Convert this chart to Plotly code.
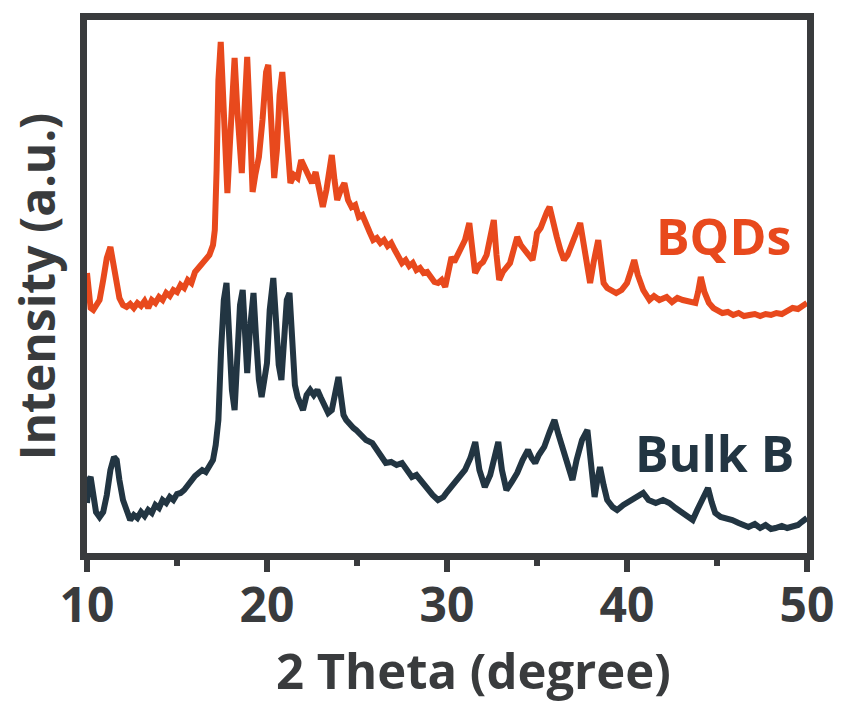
import plotly.graph_objects as go

# ---- data ----
bqd_theta = [10.0, 10.1, 10.2, 10.35, 10.5, 10.7, 10.9, 11.1, 11.3, 11.45, 11.6, 11.8, 12.0, 12.2, 12.4, 12.6, 12.8, 13.0,
             13.2, 13.4, 13.6, 13.8, 14.0, 14.2, 14.4, 14.6, 14.8, 15.0, 15.2, 15.4, 15.6, 15.8, 16.0, 16.2, 16.4, 16.6,
             16.8, 17.0, 17.1, 17.2, 17.3, 17.43, 17.55, 17.7, 17.8, 17.95, 18.1, 18.2, 18.35, 18.5, 18.6, 18.75, 18.9,
             19.05, 19.2, 19.35, 19.55, 19.75, 19.95, 20.07, 20.2, 20.4, 20.55, 20.7, 20.85, 21.0, 21.15, 21.3, 21.5,
             21.7, 21.9, 22.1, 22.3, 22.5, 22.7, 22.9, 23.1, 23.3, 23.45, 23.6, 23.75, 23.9, 24.1, 24.3, 24.5, 24.7,
             24.9, 25.1, 25.3, 25.5, 25.7, 25.9, 26.1, 26.3, 26.5, 26.7, 26.9, 27.1, 27.3, 27.5, 27.7, 27.9, 28.1, 28.3,
             28.5, 28.7, 28.9, 29.1, 29.3, 29.5, 29.7, 29.9, 30.1, 30.25, 30.4, 30.6, 30.8, 31.0, 31.24, 31.4, 31.56,
             31.8, 32.0, 32.2, 32.4, 32.6, 32.75, 32.9, 33.1, 33.3, 33.5, 33.7, 33.9, 34.1, 34.3, 34.5, 34.75, 34.9,
             35.0, 35.2, 35.4, 35.55, 35.7, 35.85, 36.0, 36.1, 36.3, 36.5, 36.7, 36.85, 37.0, 37.2, 37.4, 37.6, 37.8,
             37.95, 38.15, 38.4, 38.55, 38.7, 38.9, 39.1, 39.4, 39.7, 40.0, 40.2, 40.4, 40.6, 40.9, 41.25, 41.5, 41.8,
             42.2, 42.5, 42.8, 43.1, 43.5, 43.8, 43.95, 44.1, 44.3, 44.55, 44.8, 45.1, 45.3, 45.6, 45.9, 46.2, 46.5,
             46.8, 47.1, 47.4, 47.7, 48.0, 48.3, 48.6, 48.9, 49.2, 49.5, 49.8, 50.0]
bqd_level = [273, 295, 308, 310, 305, 300, 280, 258, 247, 262, 285, 298, 305, 307, 304, 308, 303, 306,
             301, 308, 300, 303, 297, 300, 293, 296, 290, 292, 285, 288, 280, 283, 272, 268, 264, 258,
             255, 245, 230, 170, 80, 42, 90, 170, 193, 140, 80, 58, 110, 160, 173, 110, 57,
             120, 192, 175, 157, 120, 72, 65, 110, 178, 150, 95, 72, 110, 160, 183, 175,
             178, 160, 168, 175, 183, 172, 190, 207, 190, 175, 155, 180, 200, 190, 183, 200, 207,
             205, 217, 215, 225, 232, 240, 238, 243, 240, 246, 243, 250, 258, 263, 260, 266, 263, 270,
             268, 273, 272, 278, 282, 283, 280, 287, 270, 257, 262, 255, 250, 240, 223, 252, 273,
             265, 262, 255, 238, 220, 255, 280, 272, 268, 263, 250, 237, 245, 250, 255, 260, 245,
             233, 228, 217, 212, 207, 220, 230, 237, 250, 260, 255, 247, 240, 232, 223, 248, 270,
             283, 262, 240, 262, 283, 288, 290, 293, 290, 283, 272, 260, 275, 290, 300, 296, 300,
             297, 302, 298, 300, 302, 303, 292, 277, 292, 303, 308, 311, 313, 312, 315, 313, 316,
             315, 314, 316, 314, 315, 313, 314, 311, 308, 309, 305, 303]

bulk_theta = [10.0, 10.1, 10.2, 10.35, 10.5, 10.7, 10.9, 11.1, 11.3, 11.5, 11.65, 11.8, 12.0, 12.2, 12.4, 12.6, 12.8,
              13.0, 13.2, 13.4, 13.6, 13.8, 14.0, 14.2, 14.4, 14.6, 14.8, 15.0, 15.2, 15.4, 15.6, 15.8, 16.0, 16.2,
              16.4, 16.6, 16.8, 17.0, 17.15, 17.3, 17.45, 17.6, 17.75, 17.9, 18.05, 18.2, 18.35, 18.5, 18.65, 18.8,
              18.9, 19.05, 19.25, 19.4, 19.55, 19.7, 19.85, 20.0, 20.15, 20.35, 20.5, 20.65, 20.8, 20.95, 21.1, 21.25,
              21.4, 21.55, 21.7, 21.85, 22.0, 22.2, 22.4, 22.6, 22.8, 23.0, 23.2, 23.4, 23.6, 23.8, 23.97, 24.1, 24.25,
              24.4, 24.6, 24.8, 24.95, 25.2, 25.5, 25.85, 26.1, 26.4, 26.6, 26.9, 27.2, 27.5, 27.8, 28.05, 28.3, 28.6,
              28.8, 29.0, 29.2, 29.5, 29.8, 30.0, 30.25, 30.5, 30.8, 31.0, 31.3, 31.57, 31.8, 32.1, 32.4, 32.6, 32.85,
              33.05, 33.3, 33.6, 33.9, 34.2, 34.5, 34.7, 34.9, 35.1, 35.4, 35.7, 35.97, 36.2, 36.5, 36.75, 36.97, 37.2,
              37.5, 37.8, 38.0, 38.2, 38.35, 38.5, 38.7, 38.9, 39.2, 39.45, 39.8, 40.1, 40.5, 40.9, 41.2, 41.6, 42.0,
              42.35, 42.7, 43.0, 43.35, 43.65, 43.9, 44.2, 44.5, 44.7, 44.9, 45.2, 45.5, 45.85, 46.2, 46.5, 46.75, 47.1,
              47.4, 47.7, 48.0, 48.25, 48.6, 48.9, 49.2, 49.5, 49.7, 49.9, 50.0]
bulk_level = [503, 480, 477, 495, 512, 517, 512, 495, 470, 457, 460, 480, 500, 510, 520, 515, 518,
              512, 516, 510, 513, 505, 508, 500, 503, 497, 500, 494, 493, 490, 485, 480, 476, 473,
              470, 472, 467, 460, 445, 420, 350, 300, 283, 330, 390, 410, 360, 305, 290, 340,
              373, 330, 293, 340, 380, 397, 375, 363, 310, 278, 320, 365, 380, 340, 300, 293,
              340, 385, 397, 405, 410, 395, 390, 395, 390, 398, 405, 413, 410, 395, 377, 395, 415,
              420, 425, 428, 430, 435, 440, 443, 450, 458, 463, 462, 465, 463, 470, 477, 475, 482,
              485, 490, 495, 500, 497, 492, 487, 482, 475, 470, 458, 442, 470, 487, 475, 460, 442,
              470, 490, 482, 473, 460, 450, 458, 463, 455, 447, 432, 420, 435, 453, 465, 480, 460,
              440, 430, 460, 497, 480, 467, 485, 500, 507, 510, 505, 502, 497, 493, 500, 503, 500,
              503, 508, 512, 515, 520, 510, 498, 488, 502, 513, 517, 518, 520, 523, 525, 527, 524,
              528, 525, 529, 528, 526, 528, 527, 525, 522, 520, 518]

# convert screen-read levels (measured from the top) into intensity counts
BASE = 553
TOP = 20
bqd_intensity = [BASE - v for v in bqd_level]
bulk_intensity = [BASE - v for v in bulk_level]

x_ticks = [10, 20, 30, 40, 50]
x_ticklabels = ["10", "20", "30", "40", "50"]

ORANGE = "#E8491D"
DARK = "#223542"
AXIS = "#393b3d"
FONT = "Open Sans"

fig = go.Figure()
fig.add_trace(go.Scatter(x=bqd_theta, y=bqd_intensity, mode="lines",
                         line=dict(color=ORANGE, width=6), name="BQDs"))
fig.add_trace(go.Scatter(x=bulk_theta, y=bulk_intensity, mode="lines",
                         line=dict(color=DARK, width=6), name="Bulk B"))

fig.add_annotation(x=45.35, y=BASE - 236, text="BQDs", showarrow=False, xref="x", yref="y",
                   font=dict(family=FONT, size=50, color=ORANGE, weight=700))
fig.add_annotation(x=44.85, y=BASE - 453, text="Bulk B", showarrow=False, xref="x", yref="y",
                   font=dict(family=FONT, size=50, color=DARK, weight=700))

# x-axis title (sits slightly right of the plot centre in the reference)
fig.add_annotation(x=0.537, y=0, xref="paper", yref="paper", xanchor="center", yanchor="middle",
                   yshift=-117, showarrow=False, text="2 Theta (degree)",
                   font=dict(family=FONT, size=49, color=AXIS, weight=700))

fig.update_layout(
    width=846, height=705,
    margin=dict(l=87, r=36, t=TOP, b=705 - BASE),
    paper_bgcolor="white", plot_bgcolor="white",
    showlegend=False,
    font=dict(family=FONT, color=AXIS),
    xaxis=dict(range=[10, 50], tickvals=x_ticks, ticktext=x_ticklabels,
               ticks="outside", ticklen=12, tickwidth=6, tickcolor=AXIS,
               minor=dict(dtick=5, tick0=10, ticks="outside", ticklen=6, tickwidth=6, tickcolor=AXIS),
               showline=True, linewidth=7, linecolor=AXIS, mirror=True,
               showgrid=False, zeroline=False, ticklabelstandoff=-8,
               tickfont=dict(family=FONT, size=48, color=AXIS, weight=700)),
    yaxis=dict(range=[0, BASE - TOP], showticklabels=False, ticks="",
               showline=True, linewidth=7, linecolor=AXIS, mirror=True,
               showgrid=False, zeroline=False,
               title=dict(text="Intensity (a.u.)", standoff=12,
                          font=dict(family=FONT, size=48, color=AXIS, weight=700))),
)

fig.write_html("out.html")
